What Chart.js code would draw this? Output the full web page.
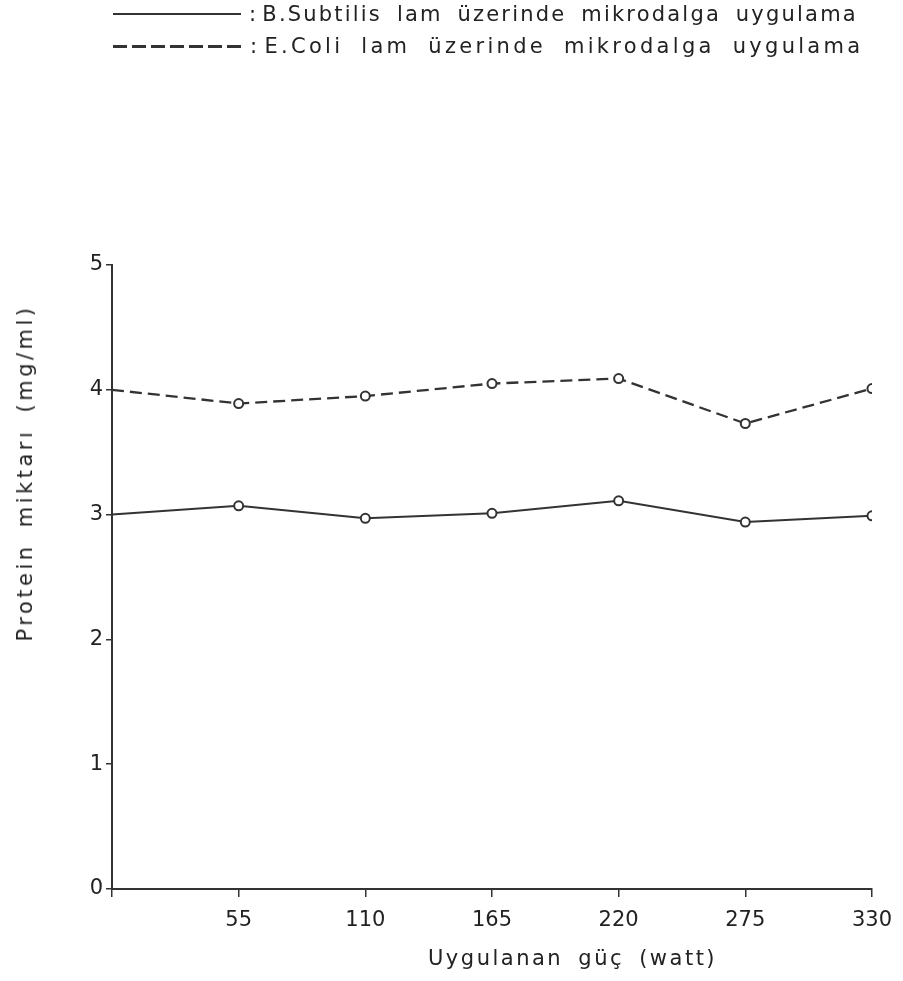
<!DOCTYPE html>
<html>
<head>
<meta charset="utf-8">
<script src="https://cdn.jsdelivr.net/npm/chart.js@4/dist/chart.umd.min.js"></script>
<style>
    body { margin: 0; background: #fff; }
    .wrap { position: relative; width: 903px; height: 981px; font-family: 'DejaVu Sans', sans-serif; color: #222; }
    .legend-row { position: absolute; left: 113px; display: flex; align-items: center; font-size: 21px; letter-spacing: 2.2px; word-spacing: 6px; white-space: nowrap; }
    .legend-row.second { letter-spacing: 3.3px; word-spacing: 8px; }
    .legend-line { width: 128px; height: 2px; background: #333; margin-right: 8px; }
    .legend-line.dashed { width: 133px; height: 3px; margin-right: 4px; background: repeating-linear-gradient(to right, #333 0 14px, transparent 14px 19px); }
    .colon { margin-right: 4px; }
    .x-title { position: absolute; left: 428px; top: 946px; font-size: 21px; letter-spacing: 2.5px; word-spacing: 6px; white-space: nowrap; }
    .y-title { position: absolute; left: 25px; top: 473px; transform: translate(-50%, -50%) rotate(-90deg); font-size: 21px; letter-spacing: 3.5px; word-spacing: 6px; white-space: nowrap; }
</style>
</head>
<body>
<div class="wrap">
    <canvas id="chartCanvas" width="903" height="981"></canvas>
    <div class="legend-row" style="top: 2px;"><div class="legend-line"></div><span class="colon">:</span>B.Subtilis lam üzerinde mikrodalga uygulama</div>
    <div class="legend-row second" style="top: 34px;"><div class="legend-line dashed"></div><span class="colon">:</span>E.Coli lam üzerinde mikrodalga uygulama</div>
    <div class="y-title">Protein miktarı (mg/ml)</div>
    <div class="x-title">Uygulanan güç (watt)</div>
</div>
<script>
// values
const powerWatt = [0, 55, 110, 165, 220, 275, 330]
const bSubtilis = [3.0, 3.07, 2.97, 3.01, 3.11, 2.94, 2.99]
const eColi = [4.0, 3.89, 3.95, 4.05, 4.09, 3.73, 4.01]
const yTicks = [0, 1, 2, 3, 4, 5]

const toPoints = (values) => powerWatt.map((x, i) => ({ x: x, y: values[i] }))
const markerRadius = powerWatt.map(x => x === 0 ? 0 : 4.5)
const ink = '#333'

const chartData = {
    datasets: [
        {
            label: 'B.Subtilis lam üzerinde mikrodalga uygulama',
            data: toPoints(bSubtilis),
            borderColor: ink,
            borderWidth: 2,
            pointRadius: markerRadius,
            pointBackgroundColor: '#fff',
            pointBorderColor: ink,
            pointBorderWidth: 2,
            tension: 0
        },
        {
            label: 'E.Coli lam üzerinde mikrodalga uygulama',
            data: toPoints(eColi),
            borderColor: ink,
            borderWidth: 2.3,
            borderDash: [12, 6],
            pointRadius: markerRadius,
            pointBackgroundColor: '#fff',
            pointBorderColor: ink,
            pointBorderWidth: 2,
            tension: 0
        }
    ]
}

const config = {
    type: 'line',
    data: chartData,
    options: {
        responsive: false,
        animation: false,
        layout: {
            padding: { top: 265, right: 26, left: 0, bottom: 0 }
        },
        plugins: {
            legend: { display: false },
            tooltip: { enabled: false }
        },
        scales: {
            x: {
                type: 'linear',
                min: 0,
                max: 330,
                afterFit: (scale) => { scale.height = 92 },
                afterBuildTicks: (scale) => {
                    scale.ticks = powerWatt.map(v => ({ value: v }))
                },
                border: { color: ink, width: 2 },
                grid: { drawOnChartArea: false, color: ink, tickLength: 8, lineWidth: 1.5 },
                ticks: {
                    color: '#222',
                    padding: 11,
                    font: { family: 'DejaVu Sans', size: 21 },
                    callback: (v) => v === 0 ? '' : v
                }
            },
            y: {
                min: 0,
                max: 5,
                afterFit: (scale) => { scale.width = 112 },
                afterBuildTicks: (scale) => {
                    scale.ticks = yTicks.map(v => ({ value: v }))
                },
                border: { color: ink, width: 2 },
                grid: { drawOnChartArea: false, color: ink, tickLength: 6, lineWidth: 1.5 },
                ticks: {
                    color: '#222',
                    padding: 3,
                    font: { family: 'DejaVu Sans', size: 21 }
                }
            }
        }
    }
}

const myChart = new Chart(document.getElementById('chartCanvas'), config)
</script>
</body>
</html>
